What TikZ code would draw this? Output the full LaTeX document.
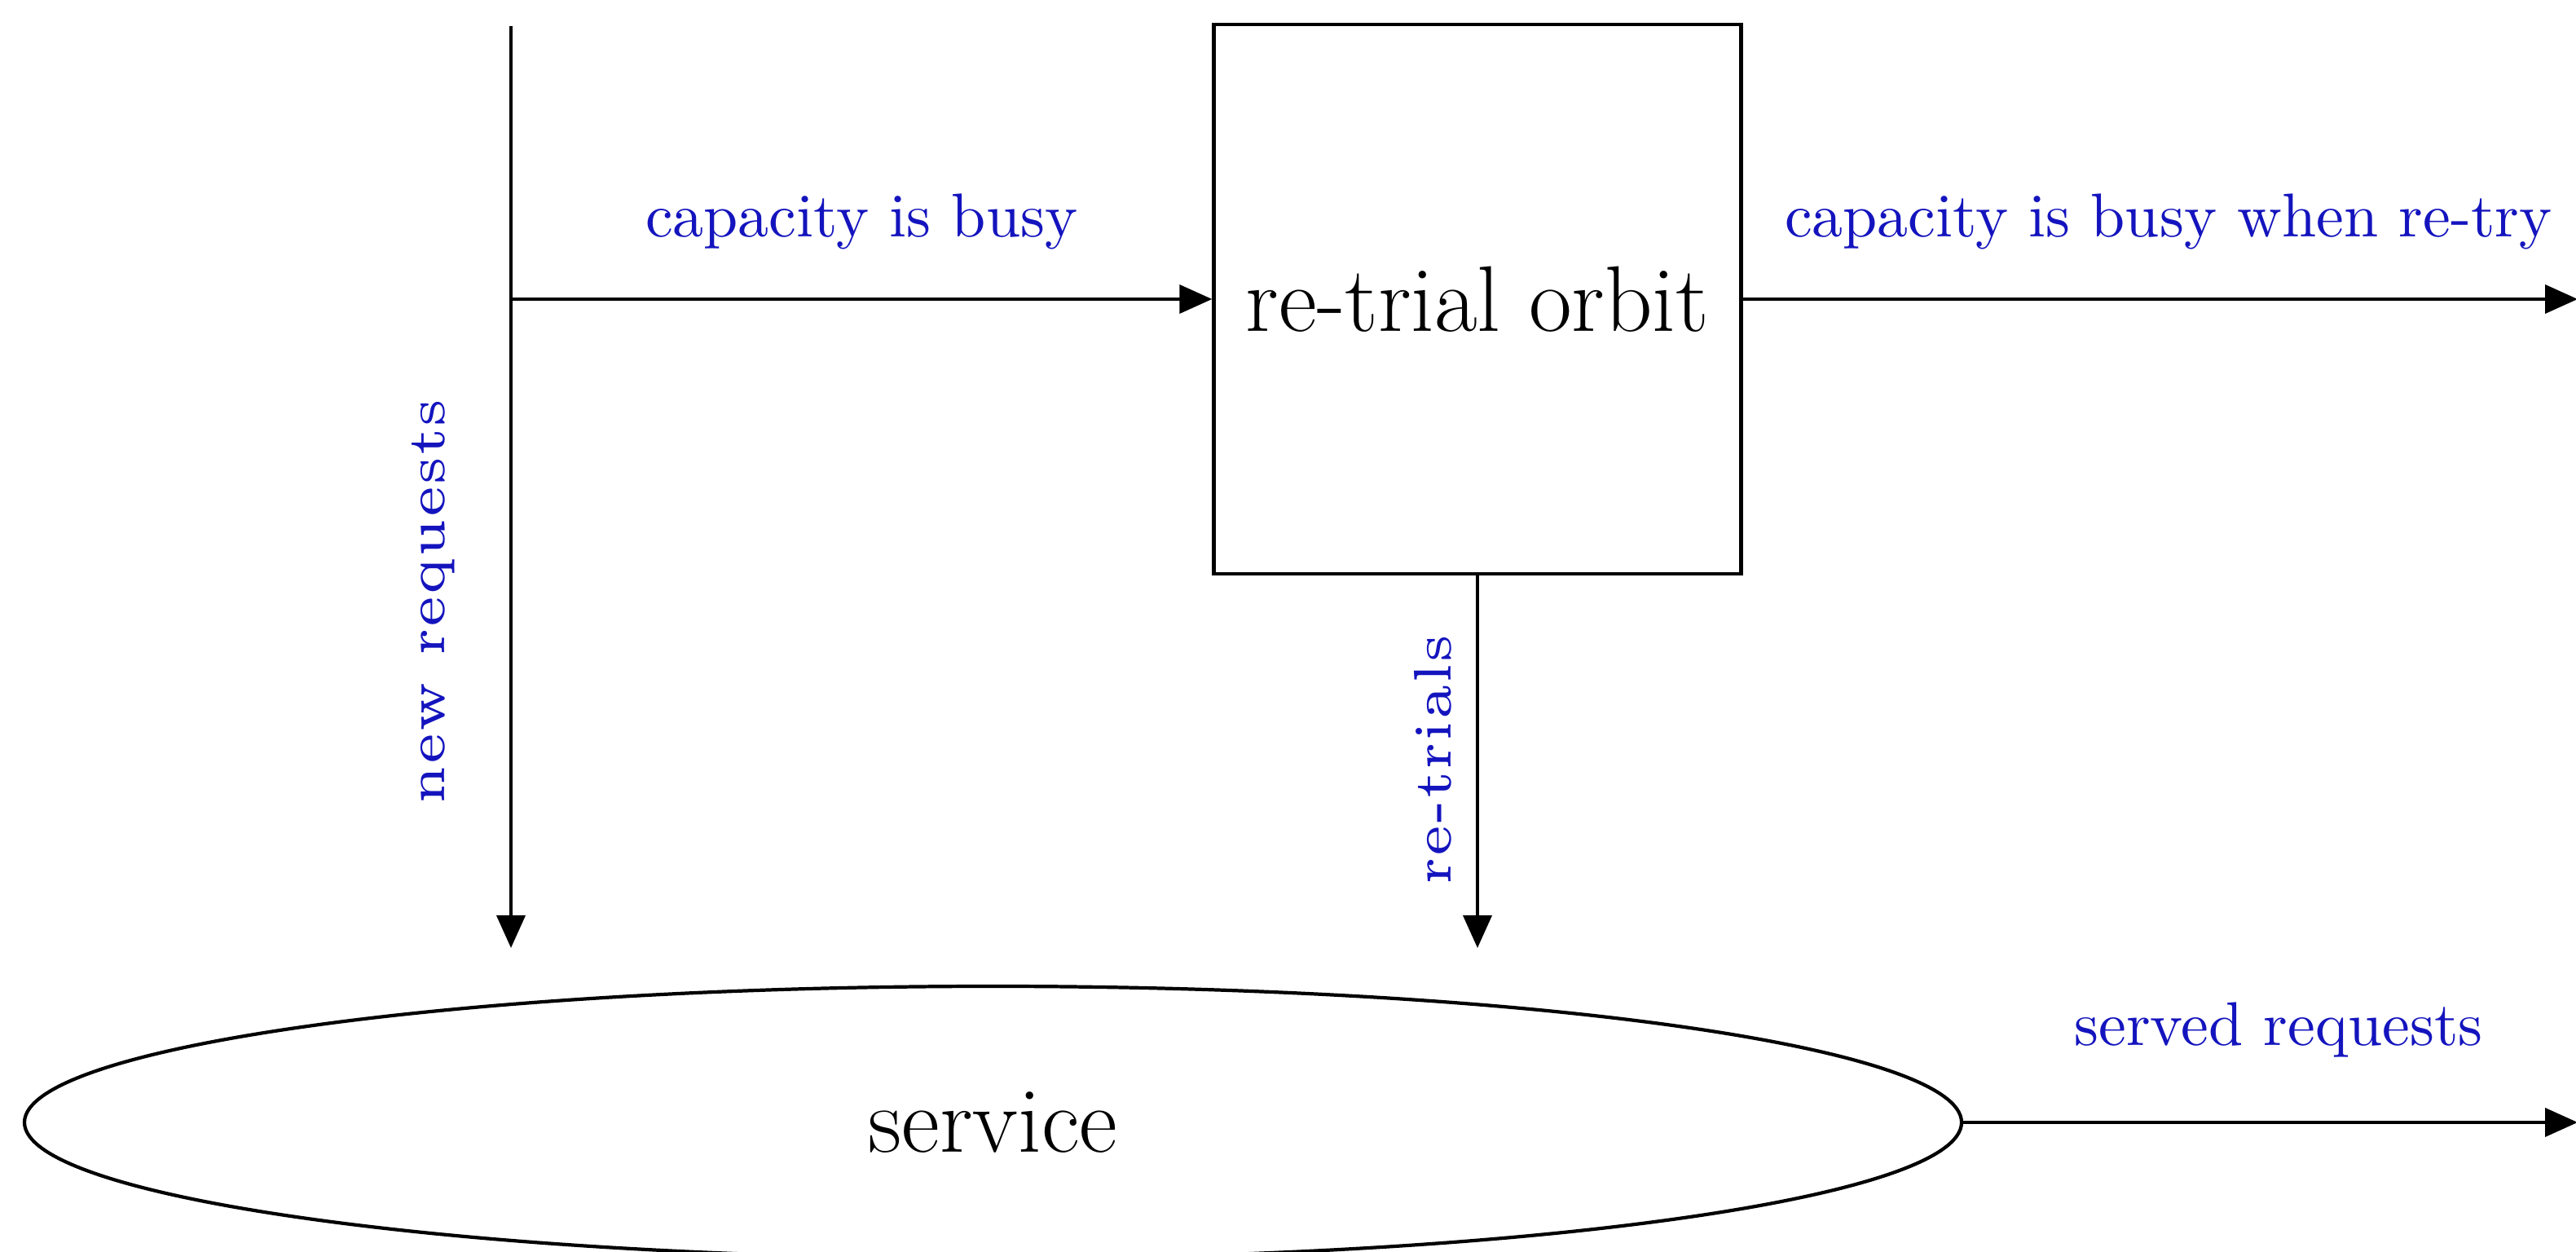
\documentclass[tikz,border=0pt]{standalone}
\usepackage{graphicx}
\usetikzlibrary{arrows.meta,positioning,calc,shapes.geometric}
\definecolor{lineColor}{RGB}{0,0,0}
\definecolor{labelBlue}{RGB}{20,20,190}
\newcommand{\lbl}[2][2.16]{\scalebox{#1}{#2}}

\begin{document}
\begin{tikzpicture}[
  orbitbox/.style={draw=lineColor, line width=1.25pt, minimum width=6.47cm, minimum height=6.74cm, inner sep=0pt, font=\fontsize{32.6}{38}\selectfont},
  servicebox/.style={ellipse, draw=lineColor, line width=1.2pt, minimum width=23.77cm, minimum height=3.34cm, inner sep=0pt, font=\fontsize{32.6}{38}\selectfont},
  flowlabel/.style={font=\normalsize, text=labelBlue, inner sep=0pt},
  sidelabel/.style={font=\tiny, text=labelBlue, inner sep=0pt, rotate=90},
  flow/.style={-{Triangle[length=4mm, width=3.5mm]}, line width=1.1pt, draw=lineColor}
]
\useasboundingbox (0,0) rectangle (31.61,15.36);

% nodes
\node[orbitbox] (orbit) at (18.13,11.69) {re-trial orbit};
\node[servicebox] (service) at (12.185,1.59) {service};

\coordinate (src) at (6.27,15.04);
\coordinate (split) at (6.27,11.69);
\coordinate (newend) at (6.27,3.73);
\coordinate (retryend) at (orbit.south |- newend);
\coordinate (busyout) at (31.63,11.69);
\coordinate (servedout) at (31.63,1.59);

% flows
\draw[flow, -, line width=0.9pt] (src) -- (split);
\draw[flow] (split) -- (newend);
\draw[flow] (split) -- (orbit.west) node[flowlabel, midway, yshift=9.5mm] {\lbl{capacity is busy}};
\draw[flow] (orbit.east) -- (busyout) node[flowlabel, midway, xshift=1mm, yshift=9.5mm] {\lbl{capacity is busy when re-try}};
\draw[flow] (orbit.south) -- (retryend);
\draw[flow] (service.east) -- (servedout) node[flowlabel, midway, xshift=1mm, yshift=11.3mm] {\lbl{served requests}};

\node[sidelabel] (newlbl) at (5.32,7.98) {\lbl[3.7]{new requests}};
\node[sidelabel] (retrylbl) at (17.58,6.04) {\lbl[3.7]{re-trials}};

\end{tikzpicture}
\end{document}
